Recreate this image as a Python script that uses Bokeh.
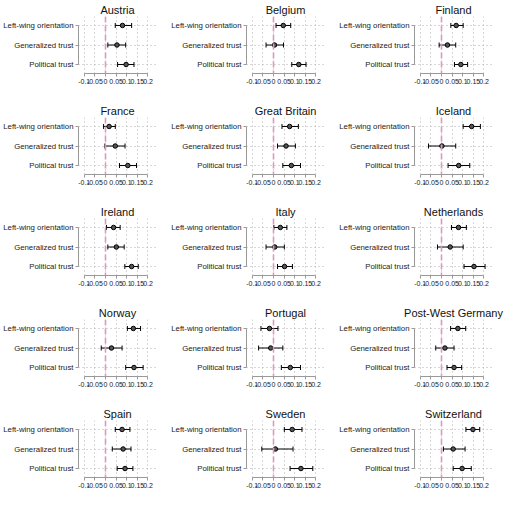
from bokeh.plotting import figure
from bokeh.layouts import gridplot
from bokeh.models import (Range1d, FixedTicker, Whisker, TeeHead, Span,
                          ColumnDataSource, CustomJSTickFormatter)
from bokeh.embed import file_html
from bokeh.resources import INLINE

countries = ["Austria", "Belgium", "Finland", "France", "Great Britain", "Iceland",
             "Ireland", "Italy", "Netherlands", "Norway", "Portugal", "Post-West Germany",
             "Spain", "Sweden", "Switzerland"]

variables = ["Left-wing orientation", "Generalized trust", "Political trust"]

left_est = [0.080, 0.046, 0.069, 0.017, 0.076, 0.142, 0.038, 0.032, 0.080, 0.131, -0.019, 0.077, 0.078, 0.088, 0.148]
left_lo  = [0.046, 0.012, 0.044, -0.009, 0.040, 0.102, 0.005, 0.002, 0.047, 0.103, -0.059, 0.043, 0.046, 0.051, 0.115]
left_hi  = [0.123, 0.081, 0.102, 0.046, 0.117, 0.183, 0.069, 0.063, 0.117, 0.165, 0.021, 0.114, 0.115, 0.134, 0.180]

gen_est = [0.054, 0.005, 0.028, 0.046, 0.059, 0.002, 0.051, 0.006, 0.041, 0.028, -0.013, 0.016, 0.083, 0.009, 0.055]
gen_lo  = [0.011, -0.035, -0.011, -0.003, 0.019, -0.061, 0.011, -0.035, -0.019, -0.020, -0.070, -0.027, 0.032, -0.055, 0.009]
gen_hi  = [0.095, 0.047, 0.067, 0.092, 0.103, 0.067, 0.088, 0.051, 0.102, 0.078, 0.044, 0.059, 0.120, 0.092, 0.111]

pol_est = [0.097, 0.119, 0.091, 0.105, 0.084, 0.081, 0.123, 0.052, 0.153, 0.134, 0.079, 0.059, 0.092, 0.129, 0.097]
pol_lo  = [0.057, 0.086, 0.061, 0.066, 0.044, 0.031, 0.091, 0.019, 0.106, 0.095, 0.037, 0.026, 0.055, 0.078, 0.055]
pol_hi  = [0.134, 0.153, 0.123, 0.146, 0.127, 0.133, 0.154, 0.089, 0.205, 0.177, 0.127, 0.095, 0.129, 0.185, 0.140]

x_ticks = [-0.1, -0.05, 0, 0.05, 0.1, 0.15, 0.2]

FONT = "Liberation Sans"
figs = []
for i, c in enumerate(countries):
    ypos = [3, 2, 1]
    src = ColumnDataSource(dict(
        y=ypos,
        est=[left_est[i], gen_est[i], pol_est[i]],
        lo=[left_lo[i], gen_lo[i], pol_lo[i]],
        hi=[left_hi[i], gen_hi[i], pol_hi[i]],
    ))
    p = figure(width=168, height=101, x_range=Range1d(-0.127, 0.24),
               y_range=Range1d(0.54, 3.46), output_backend="svg",
               toolbar_location=None, title=c,
               min_border_left=75, min_border_right=12,
               min_border_top=2, min_border_bottom=28)
    p.outline_line_color = None
    p.background_fill_color = "white"
    p.title.align = "center"
    p.title.text_font = FONT
    p.title.text_font_size = "11px"
    p.title.text_font_style = "normal"
    p.title.text_color = "#111111"
    p.title.standoff = 2

    xa = p.xaxis[0]
    xa.ticker = FixedTicker(ticks=x_ticks)
    xa.formatter = CustomJSTickFormatter(code="return String(Math.round(tick*100)/100);")
    xa.bounds = (x_ticks[0], x_ticks[-1])
    ya = p.yaxis[0]
    ya.ticker = FixedTicker(ticks=[1, 2, 3])
    ya.formatter = CustomJSTickFormatter(args=dict(labels=variables),
                                         code="return labels[3 - Math.round(tick)];")
    ya.bounds = (1, 3)
    for ax in (xa, ya):
        ax.axis_line_color = "#999999"
        ax.major_tick_line_color = "#999999"
        ax.minor_tick_line_color = None
        ax.major_tick_out = 3
        ax.major_tick_in = 0
        ax.major_label_text_font = FONT
        ax.major_label_text_color = "#222222"
        ax.major_label_standoff = 2
    xa.major_label_text_font_size = "7px"
    ya.major_label_text_font_size = "7.8px"

    p.xgrid.ticker = FixedTicker(ticks=x_ticks)
    p.ygrid.ticker = FixedTicker(ticks=[1, 2, 3])
    for g in (p.xgrid, p.ygrid):
        g.grid_line_color = "#b0b0b0"
        g.grid_line_dash = "1 3"
        g.grid_line_width = 1

    p.add_layout(Span(location=0, dimension="height", line_color="#dd99bd",
                      line_dash="6 3", line_width=1.6))
    w = Whisker(source=src, base="y", lower="lo", upper="hi", dimension="width",
                line_color="black", line_width=1,
                upper_head=TeeHead(size=5, line_color="black", line_width=1),
                lower_head=TeeHead(size=5, line_color="black", line_width=1))
    p.add_layout(w)
    p.scatter("est", "y", source=src, size=4.5, fill_color="#555555",
              line_color="black", line_width=1)
    figs.append(p)

grid = gridplot(figs, ncols=3, toolbar_location=None)
open("out.html", "w").write(file_html(grid, INLINE))
